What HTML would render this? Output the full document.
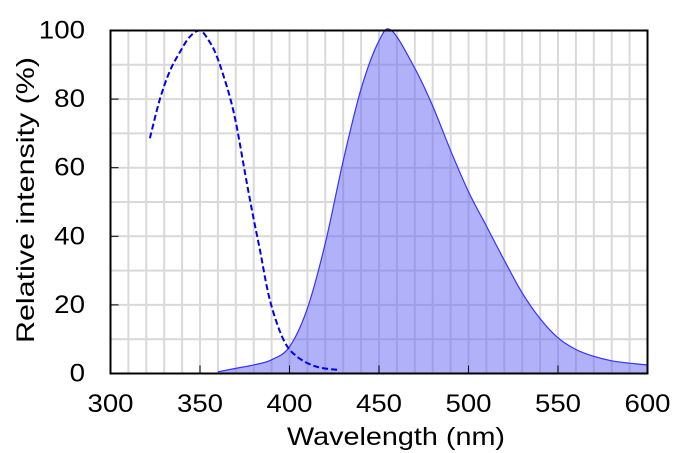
<!DOCTYPE html>
<html><head><meta charset="utf-8"><style>
html,body{margin:0;padding:0;background:#fff;}
svg{display:block;font-family:"Liberation Sans",Arial,sans-serif;}
</style></head><body>
<svg id="chart" width="698" height="453" viewBox="0 0 698 453"></svg>
<script>
const xTicks=[300,350,400,450,500,550,600];
const yTicks=[0,20,40,60,80,100];
const emissionNm=[360,370,380,390,400,410,420,430,440,450,457,470,480,490,500,510,520,530,540,550,560,570,580,590,600];
const emissionVal=[0.5,1.5,2.5,4,7.8,19,38,62,83,97,100,89,78,65,53,43,33,23.5,16,10.4,7,5,3.7,3,2.5];
const excitationNm=[322,327.6,333,338,344,350,355,359,363,367,370.5,376,380,383.5,389,396.5,404,415,428];
const excitationVal=[68.6,80,88,93,98,100,97,93,87,80,72,56,45,36,21.5,10,5,2,1];

const NS='http://www.w3.org/2000/svg';
const svg=document.getElementById('chart');
const L=110.5,R=647.5,T=30.5,B=373.5;
const xs=v=>L+(v-300)/300*(R-L);
const ys=v=>B-v/100*(B-T);
function mk(tag,attrs,parent){const e=document.createElementNS(NS,tag);for(const k in attrs)e.setAttribute(k,attrs[k]);(parent||svg).appendChild(e);return e;}
function smooth(pts){
  let d='M'+pts[0][0]+','+pts[0][1];
  for(let i=0;i<pts.length-1;i++){
    const p0=pts[i-1]||pts[i],p1=pts[i],p2=pts[i+1],p3=pts[i+2]||p2;
    const c1=[p1[0]+(p2[0]-p0[0])/6,p1[1]+(p2[1]-p0[1])/6];
    const c2=[p2[0]-(p3[0]-p1[0])/6,p2[1]-(p3[1]-p1[1])/6];
    d+=' C'+c1[0]+','+c1[1]+' '+c2[0]+','+c2[1]+' '+p2[0]+','+p2[1];
  }
  return d;
}

const grid=mk('g',{});


for(let v=310;v<600;v+=10){mk('line',{x1:xs(v),x2:xs(v),y1:T,y2:B,stroke:'#d9d9d9','stroke-width':2},grid);}
for(let v=10;v<100;v+=10){mk('line',{x1:L,x2:R,y1:ys(v),y2:ys(v),stroke:'#d9d9d9','stroke-width':2},grid);}

const ePts=emissionNm.map((n,i)=>[xs(n),ys(emissionVal[i])]);
const eD=smooth(ePts);
const fill=mk('path',{d:eD+' L'+ePts[ePts.length-1][0]+','+ys(0)+' L'+ePts[0][0]+','+ys(0)+' Z',fill:'rgba(100,100,245,0.5)',stroke:'none'});


const eline=mk('path',{d:eD,fill:'none',stroke:'#3333ff','stroke-width':1.2});



const xPts=excitationNm.map((n,i)=>[xs(n),ys(excitationVal[i])]);
const xline=mk('path',{d:smooth(xPts),fill:'none',stroke:'#0000ee','stroke-width':2,'stroke-dasharray':'6,3'});



const frame=mk('rect',{x:L,y:T,width:R-L,height:B-T,fill:'none',stroke:'#000','stroke-width':2});



xTicks.forEach(v=>{
  if(v>300&&v<600)mk('line',{x1:xs(v),x2:xs(v),y1:B,y2:B-8,stroke:'#000','stroke-width':1});
  const t=mk('text',{x:xs(v),y:412,'text-anchor':'middle','font-size':25,fill:'#000',textLength:46,lengthAdjust:'spacingAndGlyphs'});
  t.textContent=v;
  
  
});
yTicks.forEach(v=>{
  if(v>0&&v<100)mk('line',{x1:L,x2:L+8,y1:ys(v),y2:ys(v),stroke:'#000','stroke-width':1});
  const s=String(v);
  const t=mk('text',{x:85,y:ys(v)+8,'text-anchor':'end','font-size':25,fill:'#000',textLength:s.length*15.4,lengthAdjust:'spacingAndGlyphs'});
  t.textContent=s;
  
  
});
const xt=mk('text',{x:396,y:445,'text-anchor':'middle','font-size':25,fill:'#000',textLength:218,lengthAdjust:'spacingAndGlyphs'});
xt.textContent='Wavelength (nm)';


const yt=mk('text',{x:0,y:0,'text-anchor':'middle','font-size':25,fill:'#000',textLength:286,lengthAdjust:'spacingAndGlyphs',transform:'translate(34,200) rotate(-90)'});
yt.textContent='Relative intensity (%)';


</script>
</body></html>
